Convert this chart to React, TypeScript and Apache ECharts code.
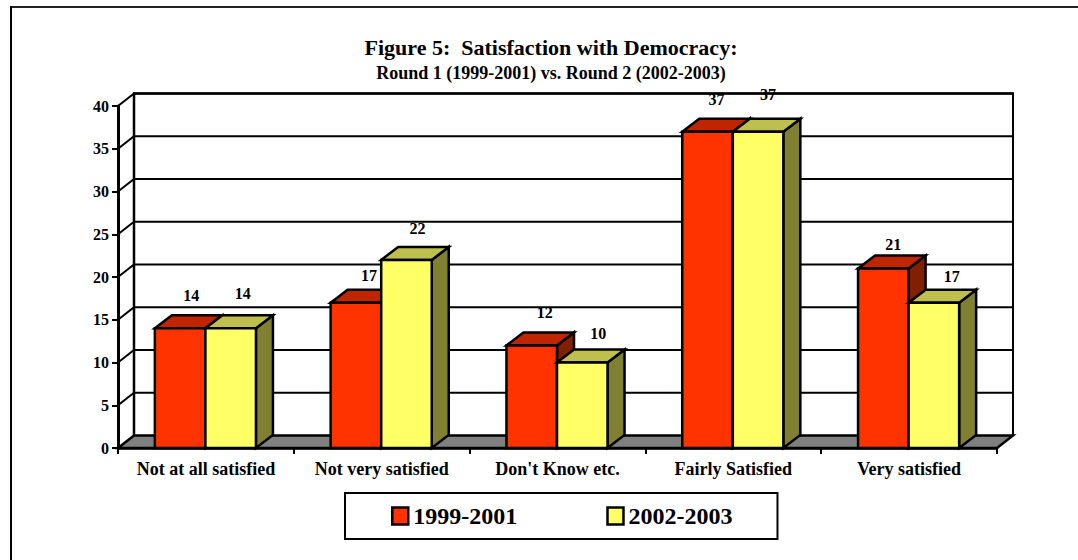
import React, { useEffect, useRef } from "react";
import * as echarts from "echarts";

const titleText = "Figure 5:  Satisfaction with Democracy:";
const subtitleText = "Round 1 (1999-2001) vs. Round 2 (2002-2003)";
const categories = ["Not at all satisfied", "Not very satisfied", "Don't Know etc.", "Fairly Satisfied", "Very satisfied"];
const round1Name = "1999-2001";
const round2Name = "2002-2003";
const round1Values = [14, 17, 12, 37, 21];
const round2Values = [14, 22, 10, 37, 17];
const yTicks = [0, 5, 10, 15, 20, 25, 30, 35, 40];

// Styling and layout only
const FONT = "'Liberation Serif', 'Times New Roman', serif";
const WALL_DX = 16;
const WALL_DY = 12.6;
const BAR_DX = 17;
const BAR_DY = 13;
const BAR_SHARE = 0.2875;
const round1Nudge = [[11, -33], [13, -27], [13, -33], [9, -32], [10, -24]];
const round2Nudge = [[12, -35], [11, -31], [16, -29], [10, -37], [18, -26]];

const barPalette = {
  red: { front: "#FF3300", top: "#BF2600", side: "#802000" },
  yellow: { front: "#FFFF66", top: "#BFBF4D", side: "#808033" },
};

function barSeries(name: string, values: number[], slot: number, pal: any, nudge: number[][]) {
  return {
    type: "custom",
    name,
    z: 3,
    clip: false,
    silent: true,
    encode: { x: 0, y: 1 },
    itemStyle: { color: pal.front },
    data: values.map((v, i) => [i, v]),
    renderItem: (params: any, api: any) => {
      const idx = api.value(0);
      const [cx, top] = api.coord([idx, api.value(1)]);
      const [, base] = api.coord([idx, 0]);
      const w = api.size([1, 0])[0] * BAR_SHARE;
      const x0 = cx - 0.5 + (slot - 1) * w;
      const x1 = x0 + w;
      const stroke = { stroke: "#000", lineWidth: 2.5, lineJoin: "miter" };
      const [nx, ny] = nudge[params.dataIndex];
      return {
        type: "group",
        children: [
          { type: "polygon", shape: { points: [[x1, top], [x1 + BAR_DX, top - BAR_DY], [x1 + BAR_DX, base - BAR_DY], [x1, base]] }, style: { fill: pal.side, ...stroke } },
          { type: "polygon", shape: { points: [[x0, top], [x0 + BAR_DX, top - BAR_DY], [x1 + BAR_DX, top - BAR_DY], [x1, top]] }, style: { fill: pal.top, ...stroke } },
          { type: "rect", shape: { x: x0, y: top, width: w, height: base - top }, style: { fill: pal.front, ...stroke } },
          {
            type: "text",
            x: (x0 + x1) / 2 + nx,
            y: top + ny,
            style: { text: String(api.value(1)), fill: "#000", font: `bold 16px ${FONT}`, align: "center", verticalAlign: "middle" },
          },
        ],
      };
    },
  };
}

function wallSeries() {
  return {
    type: "custom",
    name: "wall",
    z: 1,
    clip: false,
    silent: true,
    encode: { y: 1 },
    data: yTicks.map((t) => [0, t]),
    renderItem: (params: any, api: any) => {
      const g = params.coordSys;
      const v = api.value(1);
      const y = api.coord([0, v])[1];
      const l = g.x;
      const r = g.x + g.width;
      const line = { stroke: "#000", lineWidth: 2, fill: "none" };
      const children: any[] = [];
      if (v === 0) {
        children.push({
          type: "polygon",
          shape: { points: [[l, y], [l + WALL_DX, y - WALL_DY], [r + WALL_DX, y - WALL_DY], [r, y]] },
          style: { fill: "#808080", stroke: "#000", lineWidth: 2.5 },
        });
        children.push({ type: "line", shape: { x1: l + WALL_DX, y1: y - WALL_DY, x2: l + WALL_DX, y2: g.y - WALL_DY }, style: { stroke: "#000", lineWidth: 2.5 } });
        children.push({ type: "line", shape: { x1: r + WALL_DX, y1: y - WALL_DY, x2: r + WALL_DX, y2: g.y - WALL_DY }, style: { stroke: "#000", lineWidth: 2 } });
      } else {
        children.push({
          type: "polyline",
          shape: { points: [[l, y], [l + WALL_DX, y - WALL_DY], [r + WALL_DX, y - WALL_DY]] },
          style: line,
        });
      }
      return { type: "group", children };
    },
  };
}

function topEdgeSeries() {
  return {
    type: "custom",
    name: "topEdge",
    z: 5,
    clip: false,
    silent: true,
    encode: { y: 1 },
    data: [[0, yTicks[yTicks.length - 1]]],
    renderItem: (params: any, api: any) => {
      const g = params.coordSys;
      const y = api.coord([0, api.value(1)])[1] - WALL_DY;
      return {
        type: "line",
        shape: { x1: g.x + WALL_DX - 1, y1: y, x2: g.x + g.width + WALL_DX + 1, y2: y },
        style: { stroke: "#000", lineWidth: 2.5 },
      };
    },
  };
}

export default function App() {
  const ref = useRef<HTMLDivElement>(null);
  useEffect(() => {
    const chart = echarts.init(ref.current!, null, { renderer: "svg" });
    chart.setOption({
      animation: false,
      backgroundColor: "#fff",
      title: [
        { text: titleText, left: 546, top: 31, textAlign: "center", textStyle: { fontFamily: FONT, fontWeight: "bold", fontSize: 22, color: "#000" } },
        { text: subtitleText, left: 546, top: 59, textAlign: "center", textStyle: { fontFamily: FONT, fontWeight: "bold", fontSize: 18, color: "#000" } },
      ],
      grid: { left: 118, top: 106, width: 879, height: 342, containLabel: false },
      xAxis: {
        type: "category",
        data: categories,
        axisLine: { lineStyle: { color: "#000", width: 2.5 } },
        axisTick: { show: true, length: 6, alignWithLabel: false, lineStyle: { color: "#000", width: 2 } },
        axisLabel: { color: "#000", fontFamily: FONT, fontWeight: "bold", fontSize: 18, margin: 12, interval: 0 },
        splitLine: { show: false },
      },
      yAxis: {
        type: "value",
        min: 0,
        max: 40,
        interval: 5,
        axisLine: { show: true, lineStyle: { color: "#000", width: 3 } },
        axisTick: { show: true, length: 6, lineStyle: { color: "#000", width: 2 } },
        axisLabel: { color: "#000", fontFamily: FONT, fontWeight: "bold", fontSize: 16, margin: 9 },
        splitLine: { show: false },
      },
      legend: {
        data: [round1Name, round2Name],
        left: 345,
        top: 493,
        orient: "horizontal",
        padding: [11, 45, 11, 46],
        itemWidth: 16,
        itemHeight: 17,
        itemGap: 89,
        icon: "rect",
        borderColor: "#000",
        borderWidth: 2,
        backgroundColor: "#fff",
        selectedMode: false,
        itemStyle: { borderColor: "#000", borderWidth: 2.5 },
        textStyle: { color: "#000", fontFamily: FONT, fontWeight: "bold", fontSize: 24 },
      },
      graphic: [
        { type: "line", shape: { x1: 10, y1: 7, x2: 1078, y2: 7 }, style: { stroke: "#222", lineWidth: 2 } },
        { type: "line", shape: { x1: 11, y1: 6, x2: 11, y2: 560 }, style: { stroke: "#000", lineWidth: 2 } },
      ],
      series: [
        wallSeries(),
        barSeries(round1Name, round1Values, 0, barPalette.red, round1Nudge),
        barSeries(round2Name, round2Values, 1, barPalette.yellow, round2Nudge),
        topEdgeSeries(),
      ],
    });
    return () => chart.dispose();
  }, []);
  return <div ref={ref} style={{ position: "fixed", left: 0, top: 0, width: 1078, height: 560 }} />;
}
